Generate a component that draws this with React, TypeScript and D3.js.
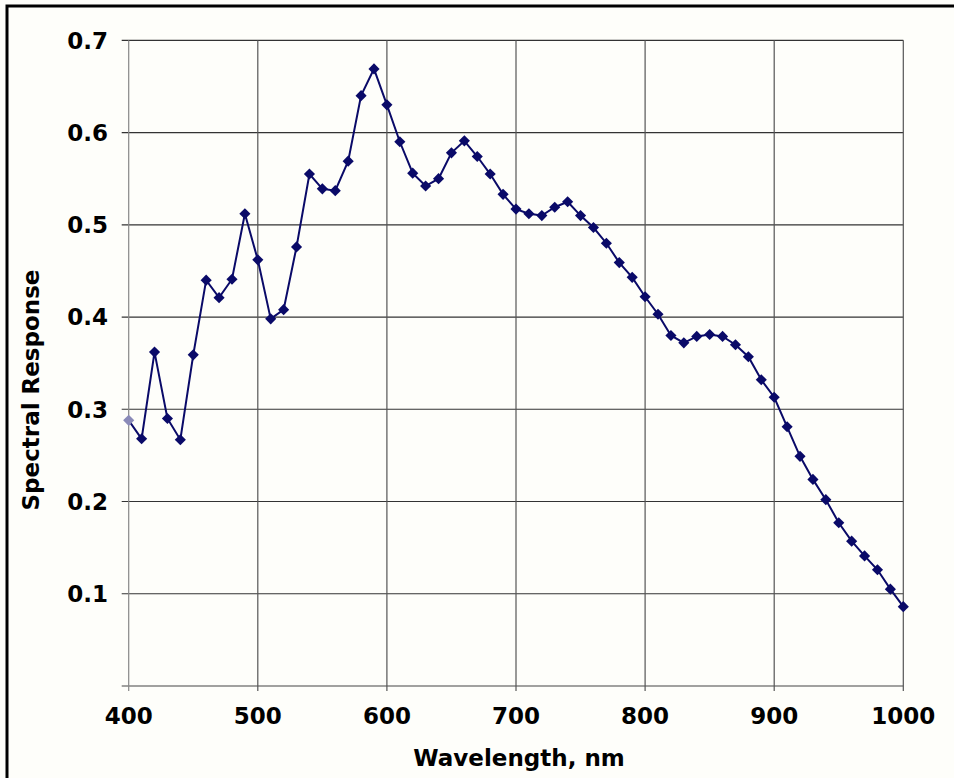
import React from 'react';
import * as d3 from 'd3';

const wavelengths = [
  400, 410, 420, 430, 440, 450, 460, 470, 480, 490,
  500, 510, 520, 530, 540, 550, 560, 570, 580, 590,
  600, 610, 620, 630, 640, 650, 660, 670, 680, 690,
  700, 710, 720, 730, 740, 750, 760, 770, 780, 790,
  800, 810, 820, 830, 840, 850, 860, 870, 880, 890,
  900, 910, 920, 930, 940, 950, 960, 970, 980, 990,
  1000,
];
const response = [
  0.288, 0.268, 0.362, 0.290, 0.267, 0.359, 0.440, 0.421, 0.441, 0.512,
  0.462, 0.398, 0.408, 0.476, 0.555, 0.539, 0.537, 0.569, 0.640, 0.669,
  0.630, 0.590, 0.556, 0.542, 0.550, 0.578, 0.591, 0.574, 0.555, 0.533,
  0.517, 0.512, 0.510, 0.519, 0.525, 0.510, 0.497, 0.480, 0.459, 0.443,
  0.422, 0.403, 0.380, 0.372, 0.379, 0.381, 0.379, 0.370, 0.357, 0.332,
  0.313, 0.281, 0.249, 0.224, 0.202, 0.177, 0.157, 0.141, 0.126, 0.105,
  0.086,
];
const xTicks = [400, 500, 600, 700, 800, 900, 1000];
const yTicks = [0.1, 0.2, 0.3, 0.4, 0.5, 0.6, 0.7];

const W = 954;
const H = 778;
const left = 128.7, right = 903.3, top = 40.3, bottom = 686;
const font = '"DejaVu Sans", Verdana, sans-serif';
const navy = '#0a0a68';

const App = () => {
  const x = d3.scaleLinear().domain([400, 1000]).range([left, right]);
  const y = d3.scaleLinear().domain([0, 0.7]).range([bottom, top]);

  const points = wavelengths.map((w, i) => ({ w, v: response[i] }));
  const line = d3.line<{ w: number; v: number }>()
    .x(d => x(d.w))
    .y(d => y(d.v));
  const diamond = d3.symbol().type(d3.symbolSquare).size(62)();

  return (
    <div style={{ position: 'absolute', left: 0, top: 0 }}>
      <svg width={W} height={H} style={{ display: 'block', background: '#fefefa' }}>
        <rect x={7} y={6} width={980} height={800} fill="none" stroke="#000" strokeWidth={3} />

        {/* horizontal grid + y ticks */}
        {yTicks.map(t => (
          <line key={'h' + t} x1={left - 7} x2={right} y1={y(t)} y2={y(t)}
            stroke="#333" strokeWidth={1.2} />
        ))}
        <line x1={left - 7} x2={right} y1={bottom} y2={bottom} stroke="#444" strokeWidth={1.2} />

        {/* vertical grid + x ticks */}
        {xTicks.map(t => (
          <line key={'v' + t} x1={x(t)} x2={x(t)} y1={top} y2={bottom + 5}
            stroke={t === 400 ? '#888' : '#555'} strokeWidth={1.2} />
        ))}

        {yTicks.map(t => (
          <text key={'yl' + t} x={108} y={y(t)} dy="0.36em" textAnchor="end"
            fontFamily={font} fontWeight="bold" fontSize={23} fill="#000">
            {t.toFixed(1)}
          </text>
        ))}
        {xTicks.map(t => (
          <text key={'xl' + t} x={x(t)} y={724} textAnchor="middle"
            fontFamily={font} fontWeight="bold" fontSize={23} fill="#000">
            {t}
          </text>
        ))}

        <text x={(left + right) / 2 + 3} y={766} textAnchor="middle"
          fontFamily={font} fontWeight="bold" fontSize={23} fill="#000">
          Wavelength, nm
        </text>
        <text transform="translate(39,390) rotate(-90)" textAnchor="middle"
          fontFamily={font} fontWeight="bold" fontSize={23} fill="#000">
          Spectral Response
        </text>

        <path d={line(points) ?? ''} fill="none" stroke={navy} strokeWidth={2} />
        {points.map((d, i) => (
          <path key={d.w} d={diamond}
            transform={`translate(${x(d.w)},${y(d.v)}) rotate(45)`}
            fill={i === 0 ? '#8a8ab8' : navy} />
        ))}
      </svg>
    </div>
  );
};

export default App;
